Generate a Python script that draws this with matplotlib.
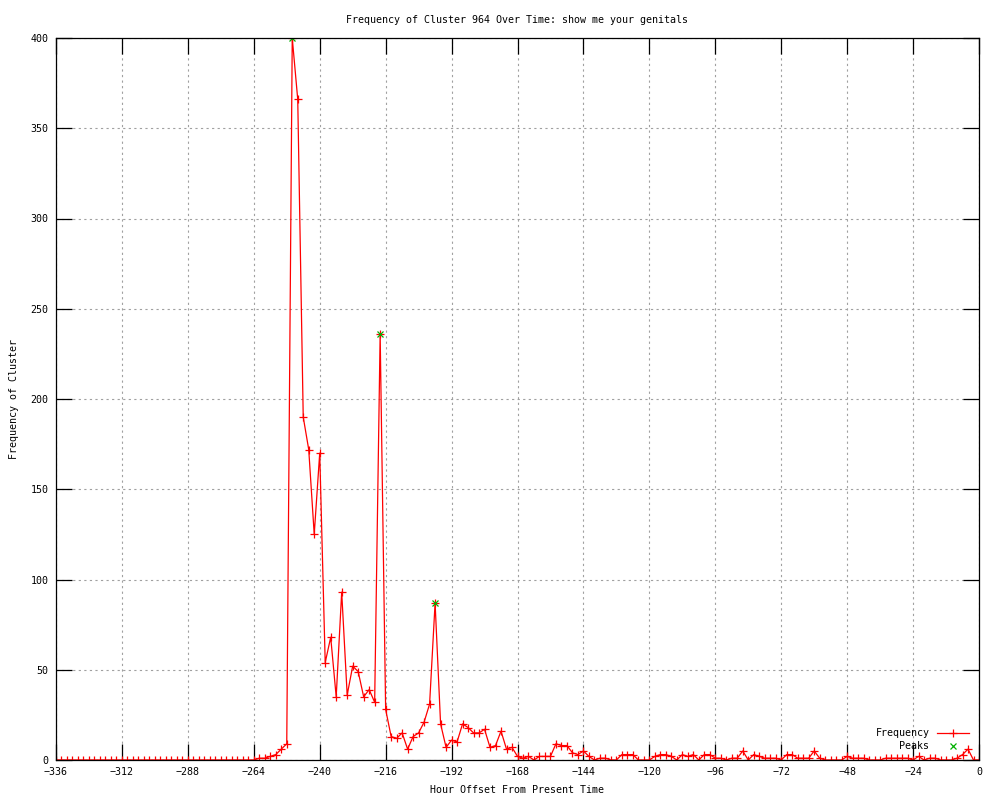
import numpy as np
import matplotlib
matplotlib.use('Agg')
import matplotlib.pyplot as plt

# hour offsets, every 2 hours from -336 to 0
hours = list(range(-336, 1, 2))

freq_flat = [0] * 36  # -336 .. -266
freq_rest = [
    0, 1, 1, 2, 3, 6, 9, 400, 366, 190,      # -264 .. -246
    172, 125, 170, 54, 68, 35, 93, 36, 52, 49,  # -244 .. -226
    35, 39, 32, 236, 28, 13, 12, 15, 6, 13,  # -224 .. -206
    15, 21, 31, 87, 20, 7, 11, 10, 20, 18,   # -204 .. -186
    15, 15, 17, 7, 8, 16, 6, 7, 2, 1,        # -184 .. -166
    2, 0, 2, 2, 2, 9, 8, 8, 4, 3,            # -164 .. -146
    5, 2, 0, 1, 1, 0, 0, 3, 3, 3,            # -144 .. -126
    0, 0, 0, 2, 3, 3, 2, 0, 3, 2,            # -124 .. -106
    3, 0, 3, 3, 1, 1, 0, 1, 1, 5,            # -104 .. -86
    0, 3, 2, 1, 1, 1, 0, 3, 3, 1,            # -84 .. -66
    1, 1, 5, 1, 0, 0, 0, 0, 2, 1,            # -64 .. -46
    1, 1, 0, 0, 0, 1, 1, 1, 1, 1,            # -44 .. -26
    0, 2, 0, 1, 1, 0, 0, 0, 1, 3,            # -24 .. -6
    6, 0, 0,                                 # -4 .. 0
]
frequency = freq_flat + freq_rest

peak_hours = [-250, -218, -198]
peak_values = [400, 236, 87]

x_ticks = list(range(-336, 1, 24))
y_ticks = list(range(0, 401, 50))

FONT = 'DejaVu Sans Mono'
FS = 7.2

plt.rcParams['font.family'] = FONT
plt.rcParams['font.size'] = FS

fig = plt.figure(figsize=(10, 8), dpi=100)
ax = fig.add_axes([0.056, 0.05, 0.923, 0.9025])

ax.plot(hours, frequency, color='red', lw=0.9, marker='+', markersize=6,
        mew=0.9, label='Frequency')
ax.plot(peak_hours, peak_values, linestyle='none', color='#00b000', marker='x',
        markersize=5, mew=0.9, label='Peaks')

ax.set_xlim(-336, 0)
ax.set_ylim(0, 400)
ax.set_xticks(x_ticks)
ax.set_yticks(y_ticks)

ax.grid(True, color='#a0a0a0', linestyle=(0, (2, 3)), lw=0.8)
ax.set_axisbelow(True)
ax.tick_params(direction='in', length=11.5, width=0.9, top=True, right=True,
               labelsize=FS)
ax.tick_params(axis='x', pad=5)
ax.tick_params(axis='y', pad=5.5)
for s in ax.spines.values():
    s.set_linewidth(0.9)

ax.set_title('Frequency of Cluster 964 Over Time: show me your genitals',
             fontsize=FS, pad=11)
ax.set_xlabel('Hour Offset From Present Time', fontsize=FS, labelpad=6)
ax.set_ylabel('Frequency of Cluster', fontsize=FS, labelpad=8)

ax.legend(loc='lower right', bbox_to_anchor=(0.995, 0.005), frameon=False,
          markerfirst=False, handlelength=3.2, handletextpad=0.8,
          labelspacing=0.3, borderpad=0, numpoints=1, fontsize=FS)

fig.savefig('out.png', dpi=100)
